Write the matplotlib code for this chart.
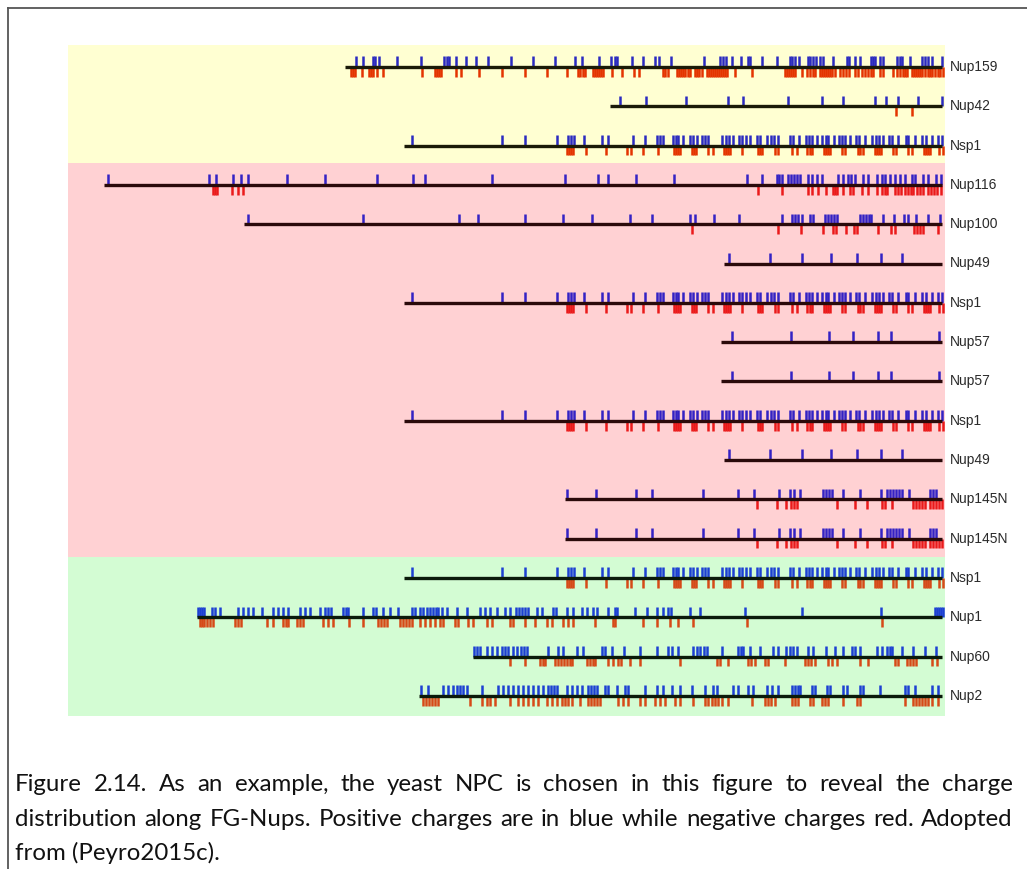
import matplotlib
matplotlib.use("Agg")
import matplotlib.pyplot as plt
from matplotlib.lines import Line2D

# ---------------- data (x positions in figure units, residues mapped) -------------
ROW_NAMES = ['Nup159', 'Nup42', 'Nsp1', 'Nup116', 'Nup100', 'Nup49', 'Nsp1', 'Nup57',
             'Nup57', 'Nsp1', 'Nup49', 'Nup145N', 'Nup145N', 'Nsp1', 'Nup1', 'Nup60', 'Nup2']
ROW_BAND = ['yellow'] * 3 + ['pink'] * 10 + ['green'] * 4
SEQ_END = 942

NUP159_START = 345
NUP159_POS = [356, 363, 373, 375, 379, 397, 421, 444, 447, 449, 456, 466, 476, 488, 511, 533, 555,
              575, 582, 599, 611, 615, 617, 632, 643, 655, 659, 671, 704, 720, 723, 726, 732, 741,
              748, 750, 762, 777, 790, 792, 795, 799, 808, 810, 813, 816, 820, 823, 833, 847, 849,
              855, 860, 871, 873, 875, 880, 883, 897, 900, 902, 910, 922, 925, 928, 932, 942]
NUP159_NEG = [351, 353, 355, 362, 369, 371, 373, 377, 383, 422, 435, 437, 439, 441, 456, 461, 479,
              502, 525, 547, 567, 578, 580, 583, 585, 593, 595, 597, 599, 601, 603, 612, 622, 634,
              639, 663, 665, 668, 677, 679, 681, 683, 685, 688, 690, 695, 697, 699, 702, 707, 709,
              711, 713, 715, 717, 719, 721, 723, 725, 727, 735, 752, 785, 787, 789, 791, 793, 795,
              802, 807, 810, 813, 815, 820, 822, 824, 826, 828, 830, 832, 835, 840, 843, 846, 849,
              855, 858, 862, 865, 868, 871, 873, 880, 883, 893, 897, 900, 903, 905, 907, 912, 914,
              916, 918, 920, 922, 925, 928, 930, 932, 935, 938, 940, 943]

NUP42_START = 610
NUP42_POS = [620, 646, 686, 728, 743, 788, 822, 843, 875, 886, 898, 918, 942]
NUP42_NEG = [896, 912]

NSP1_START = 404
NSP1_POS = [412, 502, 525, 557, 568, 571, 574, 584, 602, 608, 633, 645, 657, 660, 663, 673, 676,
            678, 683, 690, 693, 697, 702, 705, 708, 722, 726, 729, 733, 739, 742, 746, 750, 757,
            760, 767, 771, 774, 778, 790, 793, 799, 806, 809, 812, 817, 822, 826, 828, 834, 839,
            842, 845, 850, 856, 859, 865, 872, 876, 879, 883, 889, 892, 898, 906, 908, 915, 922,
            926, 932, 938, 942]
NSP1_NEG = [567, 569, 571, 573, 586, 606, 627, 631, 643, 658, 674, 676, 678, 680, 692, 694, 696,
            708, 713, 724, 726, 728, 730, 742, 758, 760, 762, 775, 778, 792, 797, 807, 810, 812,
            824, 826, 828, 830, 842, 845, 858, 860, 863, 875, 877, 879, 881, 893, 896, 908, 912,
            924, 926, 928, 930, 939, 943]

NUP116_START = 104
NUP116_POS = [108, 209, 216, 233, 241, 248, 287, 325, 377, 413, 425, 492, 565, 598, 608, 636, 674,
              747, 762, 777, 779, 782, 788, 791, 794, 797, 800, 808, 812, 817, 822, 838, 843, 848,
              851, 855, 863, 868, 877, 882, 885, 890, 895, 900, 905, 912, 915, 923, 928, 936, 941]
NUP116_NEG = [213, 215, 217, 232, 238, 243, 758, 782, 808, 812, 818, 826, 833, 835, 837, 843, 850,
              853, 862, 868, 877, 882, 885, 887, 895, 898, 901, 905, 908, 911, 913, 917, 920, 923,
              928, 931, 934, 937, 941]

NUP100_START = 244
NUP100_POS = [248, 363, 459, 478, 525, 563, 592, 630, 652, 690, 695, 714, 739, 782, 792, 795, 798,
              802, 810, 813, 825, 828, 831, 834, 837, 860, 863, 866, 869, 871, 883, 894, 904, 908,
              916, 928, 940]
NUP100_NEG = [692, 778, 801, 823, 833, 836, 846, 854, 857, 878, 891, 895, 914, 917, 920, 923, 938]

NUP49_START = 724
NUP49_POS = [729, 770, 802, 831, 857, 881, 902]
NUP49_NEG = []

NUP57_START = 721
NUP57_POS = [732, 791, 829, 853, 878, 891, 939]
NUP57_NEG = []

NUP145N_START = 565
NUP145N_POS = [567, 596, 636, 652, 703, 738, 754, 779, 790, 794, 800, 823, 826, 829, 832, 843, 860,
               881, 887, 890, 893, 896, 899, 902, 909, 930, 933, 936]
NUP145N_NEG = [757, 777, 786, 791, 794, 797, 837, 855, 867, 882, 885, 892, 913, 916, 919, 922, 925,
               930, 933, 936, 939, 942]

NUP1_START = 197
NUP1_POS = [198, 200, 202, 204, 212, 215, 220, 238, 243, 248, 253, 262, 273, 278, 283, 288, 300,
            305, 310, 320, 325, 328, 331, 343, 346, 348, 363, 373, 376, 383, 390, 398, 412, 415,
            420, 423, 427, 430, 433, 436, 438, 442, 447, 457, 467, 480, 485, 490, 497, 505, 510,
            516, 519, 522, 525, 528, 537, 542, 553, 556, 567, 573, 582, 587, 593, 597, 608, 615,
            617, 635, 647, 657, 663, 668, 671, 690, 700, 745, 802, 881, 935, 937, 939, 941, 943]
NUP1_NEG = [200, 202, 204, 207, 210, 213, 235, 238, 241, 267, 273, 283, 286, 288, 297, 300, 303,
            323, 328, 333, 349, 363, 378, 381, 384, 387, 400, 403, 406, 409, 412, 420, 425, 430,
            435, 440, 443, 455, 458, 468, 473, 487, 492, 510, 513, 525, 535, 547, 552, 563, 568,
            573, 595, 613, 615, 643, 657, 670, 678, 693, 747, 882]

NUP60_START = 473
NUP60_POS = [474, 477, 480, 487, 492, 497, 502, 505, 508, 513, 517, 521, 524, 527, 548, 558, 563,
             577, 583, 602, 605, 612, 624, 640, 657, 668, 672, 678, 693, 697, 700, 704, 707, 722,
             738, 741, 743, 750, 760, 773, 778, 786, 790, 793, 797, 808, 813, 826, 835, 843, 852,
             855, 860, 877, 882, 887, 890, 892, 902, 913, 925, 936]
NUP60_NEG = [510, 525, 540, 543, 545, 555, 558, 561, 564, 567, 570, 572, 587, 590, 593, 595, 608,
             613, 618, 621, 630, 640, 680, 717, 720, 728, 748, 751, 755, 765, 768, 785, 805, 808,
             811, 815, 828, 832, 837, 860, 868, 895, 898, 907, 910, 913, 916, 932, 937]

NUP2_START = 419
NUP2_POS = [421, 428, 443, 448, 453, 457, 460, 463, 467, 482, 498, 503, 508, 513, 518, 523, 528,
            533, 538, 543, 548, 551, 554, 557, 567, 572, 577, 582, 588, 591, 594, 597, 605, 608,
            617, 625, 628, 645, 657, 663, 672, 680, 692, 705, 713, 717, 733, 738, 748, 753, 767,
            772, 778, 792, 795, 798, 800, 812, 815, 827, 830, 843, 847, 860, 863, 880, 905, 908,
            915, 932, 938]
NUP2_NEG = [423, 426, 429, 432, 435, 438, 470, 482, 487, 490, 495, 510, 518, 523, 528, 533, 538,
            547, 552, 557, 562, 565, 568, 572, 580, 588, 591, 594, 597, 600, 618, 623, 628, 640,
            645, 655, 660, 665, 675, 680, 693, 705, 708, 712, 715, 718, 722, 728, 752, 765, 768,
            771, 775, 792, 795, 798, 810, 813, 822, 825, 828, 843, 857, 860, 905, 913, 916, 919,
            922, 925, 928, 932, 938]

PROTEINS = {
    'Nup159': (NUP159_START, NUP159_POS, NUP159_NEG),
    'Nup42': (NUP42_START, NUP42_POS, NUP42_NEG),
    'Nsp1': (NSP1_START, NSP1_POS, NSP1_NEG),
    'Nup116': (NUP116_START, NUP116_POS, NUP116_NEG),
    'Nup100': (NUP100_START, NUP100_POS, NUP100_NEG),
    'Nup49': (NUP49_START, NUP49_POS, NUP49_NEG),
    'Nup57': (NUP57_START, NUP57_POS, NUP57_NEG),
    'Nup145N': (NUP145N_START, NUP145N_POS, NUP145N_NEG),
    'Nup1': (NUP1_START, NUP1_POS, NUP1_NEG),
    'Nup60': (NUP60_START, NUP60_POS, NUP60_NEG),
    'Nup2': (NUP2_START, NUP2_POS, NUP2_NEG),
}

CAPTION_LINES = [
    "Figure 2.14. As an example, the yeast NPC is chosen in this figure to reveal the charge",
    "distribution along FG-Nups. Positive charges are in blue while negative charges red. Adopted",
    "from (Peyro2015c).",
]

# ---------------- styling ----------------
W, H = 1027, 869
BAND_BG = {'yellow': '#ffffd2', 'pink': '#ffd1d3', 'green': '#d3fcd3'}
BAND_POS = {'yellow': '#2a2ac0', 'pink': '#3322c4', 'green': '#1c40d2'}
BAND_NEG = {'yellow': '#e43400', 'pink': '#ea1a1a', 'green': '#d64a18'}
BAND_LINE = {'yellow': '#1a1a08', 'pink': '#2a0a0a', 'green': '#0a1a0a'}

fig = plt.figure(figsize=(W / 100, H / 100), dpi=100)
fig.patch.set_facecolor('white')

# plotting area in pixel coordinates
ax_l, ax_r, ax_t, ax_b = 68, 945, 45, 716
ax = fig.add_axes([ax_l / W, 1 - ax_b / H, (ax_r - ax_l) / W, (ax_b - ax_t) / H])
row_px0, row_dy = 67, 39.3
ax.set_xlim(ax_l, ax_r)
ax.set_ylim((ax_b - row_px0) / row_dy, (ax_t - row_px0) / row_dy)
ax.axis('off')

y_top = (ax_t - row_px0) / row_dy
y_bot = (ax_b - row_px0) / row_dy
ax.axhspan(y_top, 2.45, color=BAND_BG['yellow'], lw=0, zorder=0)
ax.axhspan(2.45, 12.47, color=BAND_BG['pink'], lw=0, zorder=0)
ax.axhspan(12.47, y_bot, color=BAND_BG['green'], lw=0, zorder=0)

tick_up = 0.27
tick_dn = 0.25
for i, (name, band) in enumerate(zip(ROW_NAMES, ROW_BAND)):
    start, pos, neg = PROTEINS[name]
    ax.hlines(i, start, SEQ_END, color=BAND_LINE[band], lw=2.4, zorder=3)
    if pos:
        ax.vlines(pos, i - tick_up, i, color=BAND_POS[band], lw=1.8, zorder=2)
    if neg:
        ax.vlines(neg, i, i + tick_dn, color=BAND_NEG[band], lw=1.8, zorder=2)
    ax.text(950, i, name, va='center', ha='left', fontsize=10, color='#2a2a2a',
            family='Liberation Sans', clip_on=False)

# border lines
fig.add_artist(Line2D([8 / W, 8 / W], [0, 1 - 8 / H], color='#555555', lw=1.3))
fig.add_artist(Line2D([8 / W, 1], [1 - 8 / H, 1 - 8 / H], color='#555555', lw=1.3))

# ---------------- justified caption ----------------
fig.canvas.draw()
renderer = fig.canvas.get_renderer()
cap_font = dict(family='Lato', color='#111111')
# calibrate size so that the tightest full line fits the text width
probe = fig.text(0, 0, CAPTION_LINES[1], fontsize=20, **cap_font)
w_probe = probe.get_window_extent(renderer).width
probe.remove()
cap_size = 20 * 975 / w_probe

x_left, x_right = 15, 1013
baselines = [791, 826, 860]
for li, line in enumerate(CAPTION_LINES):
    words = line.split(' ')
    y = 1 - baselines[li] / H
    if li == len(CAPTION_LINES) - 1:
        fig.text(x_left / W, y, line, fontsize=cap_size, va='baseline', ha='left', **cap_font)
        continue
    arts = [fig.text(0, y, w_, fontsize=cap_size, va='baseline', ha='left', **cap_font) for w_ in words]
    widths = [a.get_window_extent(renderer).width for a in arts]
    gap = (x_right - x_left - sum(widths)) / (len(words) - 1)
    x = x_left
    for a, wd in zip(arts, widths):
        a.set_x(x / W)
        x += wd + gap

fig.savefig('out.png', dpi=100, facecolor='white')
